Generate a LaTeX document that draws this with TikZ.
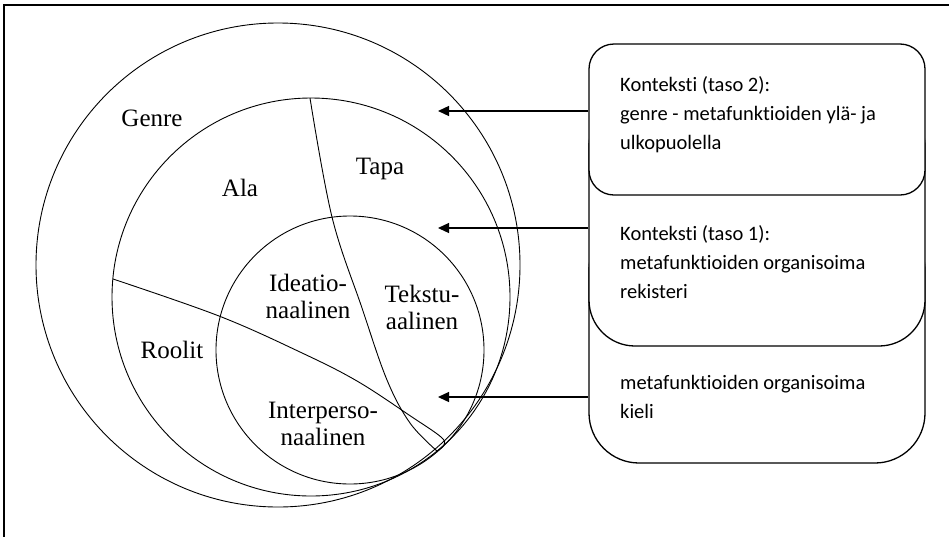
\documentclass[tikz,border=0pt]{standalone}
\usepackage{fontspec}
\setmainfont{Liberation Serif}
\newfontfamily\boxfont[Ligatures=NoCommon]{Carlito}
\usetikzlibrary{arrows.meta}
\begin{document}
\begin{tikzpicture}[x=1pt,y=-1pt,
  ring/.style={circle, draw, line width=0.9pt, inner sep=0pt},
  divider/.style={line width=0.9pt},
  lbl/.style={font=\fontsize{25}{27}\selectfont, align=center, inner sep=0pt},
  panel/.style={draw, line width=1.3pt, fill=white, minimum width=336pt, inner sep=0pt},
  paneltext/.style={font=\boxfont\fontsize{20.5}{29}\selectfont, align=left, anchor=north west, inner sep=0pt},
  pointer/.style={-{Triangle[length=11pt,width=10pt]}, line width=1.3pt}
]
\useasboundingbox (0,0) rectangle (949,536);
% frame
\begin{scope}
  \clip (0,0) rectangle (949,536);
  \draw[line width=1.2pt] (4,560) |- (970,5);
\end{scope}

% nested circles
\node[ring, minimum size=484pt] (genre) at (278,265) {};
\node[ring, minimum size=398pt] (register) at (311,297) {};
\node[ring, minimum size=268pt] (language) at (350,350) {};

% dividing curves
\draw[divider] plot[smooth, tension=0.6] coordinates {(310,98) (332,217) (362,308) (387,380) (410,423) (437,451)};
\draw[divider] plot[smooth, tension=0.6] coordinates {(113,279) (219,316) (300,352) (357,381) (412,417) (441,437) (444,445) (437,451)};

% region labels
\node[lbl] (lgenre) at (152,118) {Genre};
\node[lbl] (lala) at (240,188) {Ala};
\node[lbl] (ltapa) at (380,169) {Tapa};
\node[lbl] (lidea) at (308,296) {Ideatio-\\naalinen};
\node[lbl] (lteks) at (422,307) {Tekstu-\\aalinen};
\node[lbl] (lrool) at (172,350) {Roolit};
\node[lbl] (linter) at (323,424) {Interperso-\\naalinen};

% stacked panels
\node[panel, rounded corners=50pt, minimum height=243pt] (p3) at (757,341.5) {};
\node[panel, rounded corners=46pt, minimum height=246pt] (p2) at (757,223) {};
\node[panel, rounded corners=25pt, minimum height=151pt] (p1) at (757,119.5) {};

\node[paneltext] (t1) at (620,70.5) {\strut Konteksti (taso 2):\\genre - metafunktioiden ylä- ja\\ulkopuolella};
\node[paneltext] (t2) at (620,219.5) {\strut Konteksti (taso 1):\\metafunktioiden organisoima\\rekisteri};
\node[paneltext] (t3) at (620,368.5) {\strut metafunktioiden organisoima\\kieli};

% arrows
\coordinate (a1) at (438,111);
\coordinate (a2) at (438,228);
\coordinate (a3) at (438,397);
\draw[pointer] (p1.west |- a1) -- (a1);
\draw[pointer] (p2.west |- a2) -- (a2);
\draw[pointer] (p3.west |- a3) -- (a3);
\end{tikzpicture}
\end{document}
